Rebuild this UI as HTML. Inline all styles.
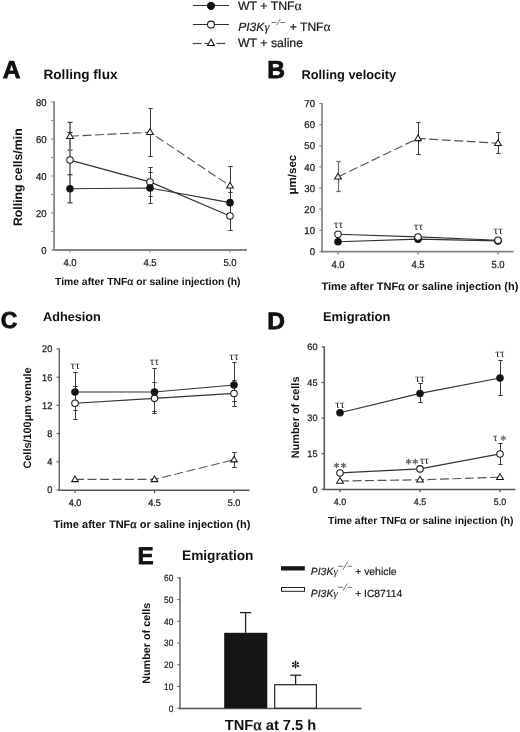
<!DOCTYPE html>
<html><head><meta charset="utf-8"><style>
html,body{margin:0;padding:0;background:#fff;width:520px;height:732px;overflow:hidden;}
svg{display:block;filter:grayscale(1);text-rendering:geometricPrecision;}
</style></head><body>
<svg width="520" height="732" viewBox="0 0 520 732">
<rect width="520" height="732" fill="#fff"/>
<line x1="193.00" y1="5.50" x2="229.00" y2="5.50" stroke="#333" stroke-width="1.15"/>
<circle cx="211.00" cy="5.80" r="3.6" fill="#111" stroke="#1a1a1a" stroke-width="1.05"/>
<line x1="193.00" y1="24.50" x2="229.00" y2="24.50" stroke="#333" stroke-width="1.15"/>
<circle cx="211.00" cy="24.60" r="3.5" fill="#fff" stroke="#1a1a1a" stroke-width="1.05"/>
<line x1="192.70" y1="43.50" x2="201.60" y2="43.50" stroke="#444" stroke-width="1.15"/>
<line x1="204.50" y1="43.50" x2="209.00" y2="43.50" stroke="#444" stroke-width="1.15"/>
<line x1="216.50" y1="43.50" x2="225.30" y2="43.50" stroke="#444" stroke-width="1.15"/>
<polygon points="211.00,39.20 207.60,45.40 214.40,45.40" fill="#fff" stroke="#1a1a1a" stroke-width="1.05" stroke-linejoin="miter"/>
<text x="238" y="10.3" font-family="Liberation Sans" font-size="12.3" font-weight="normal" font-style="normal" text-anchor="start" fill="#1a1a1a" stroke="#1a1a1a" stroke-width="0.22">WT + TNF<tspan font-family="Liberation Serif" font-weight="normal" font-size="13.78" stroke="#111" stroke-width="0.12">α</tspan></text>
<text x="238.2" y="31.3" font-family="Liberation Sans" font-size="12" font-weight="normal" font-style="italic" text-anchor="start" fill="#1a1a1a" stroke="#1a1a1a" stroke-width="0.22">PI3K</text>
<text x="264.6" y="31.3" font-family="Liberation Serif" font-size="12.5" font-weight="normal" font-style="italic" text-anchor="start" fill="#1a1a1a" stroke="#1a1a1a" stroke-width="0.15">γ</text>
<line x1="271.50" y1="22.50" x2="276.37" y2="22.50" stroke="#666" stroke-width="0.9"/>
<line x1="280.53" y1="22.50" x2="285.40" y2="22.50" stroke="#666" stroke-width="0.9"/>
<line x1="276.62" y1="25.25" x2="280.28" y2="19.14" stroke="#666" stroke-width="0.9"/>
<text x="289.8" y="31.3" font-family="Liberation Sans" font-size="12.1" font-weight="normal" font-style="normal" text-anchor="start" fill="#1a1a1a" stroke="#1a1a1a" stroke-width="0.22">+ TNF<tspan font-family="Liberation Serif" font-weight="normal" font-size="13.55" stroke="#111" stroke-width="0.12">α</tspan></text>
<text x="238" y="47.0" font-family="Liberation Sans" font-size="12.3" font-weight="normal" font-style="normal" text-anchor="start" fill="#1a1a1a" stroke="#1a1a1a" stroke-width="0.22">WT + saline</text>
<text x="2.8" y="78.1" font-family="Liberation Sans" font-size="24.6" font-weight="bold" font-style="normal" text-anchor="start" fill="#111" stroke="#111" stroke-width="0.8">A</text>
<text x="43.5" y="78.8" font-family="Liberation Sans" font-size="13.6" font-weight="bold" font-style="normal" text-anchor="start" fill="#111">Rolling flux</text>
<text x="267.2" y="78.2" font-family="Liberation Sans" font-size="24.6" font-weight="bold" font-style="normal" text-anchor="start" fill="#111" stroke="#111" stroke-width="0.8">B</text>
<text x="301.5" y="78.8" font-family="Liberation Sans" font-size="12.8" font-weight="bold" font-style="normal" text-anchor="start" fill="#111">Rolling velocity</text>
<text x="0.8" y="328.1" font-family="Liberation Sans" font-size="23.0" font-weight="bold" font-style="normal" text-anchor="start" fill="#111" stroke="#111" stroke-width="0.8">C</text>
<text x="43" y="321.3" font-family="Liberation Sans" font-size="12.7" font-weight="bold" font-style="normal" text-anchor="start" fill="#111">Adhesion</text>
<text transform="translate(267.3,328.5) scale(1.04,1)" font-family="Liberation Sans" font-size="23.6" font-weight="bold" font-style="normal" text-anchor="start" fill="#111" stroke="#111" stroke-width="0.8">D</text>
<text x="323" y="321.3" font-family="Liberation Sans" font-size="12.9" font-weight="bold" font-style="normal" text-anchor="start" fill="#111">Emigration</text>
<text x="137.6" y="564.0" font-family="Liberation Sans" font-size="24.2" font-weight="bold" font-style="normal" text-anchor="start" fill="#111" stroke="#111" stroke-width="0.8">E</text>
<text x="182" y="560" font-family="Liberation Sans" font-size="13.7" font-weight="bold" font-style="normal" text-anchor="start" fill="#111">Emigration</text>
<line x1="54.10" y1="101.40" x2="54.10" y2="250.90" stroke="#8a8a8a" stroke-width="1.9"/>
<line x1="53.15" y1="249.95" x2="247.00" y2="249.95" stroke="#858585" stroke-width="1.9"/>
<line x1="51.30" y1="250.00" x2="54.10" y2="250.00" stroke="#8a8a8a" stroke-width="1.2"/>
<text transform="translate(46.5,253.58) scale(0.95,1)" font-family="Liberation Sans" font-size="10.0" font-weight="normal" font-style="normal" text-anchor="end" fill="#1a1a1a" stroke="#1a1a1a" stroke-width="0.25">0</text>
<line x1="51.30" y1="213.00" x2="54.10" y2="213.00" stroke="#8a8a8a" stroke-width="1.2"/>
<text transform="translate(46.5,216.58) scale(0.95,1)" font-family="Liberation Sans" font-size="10.0" font-weight="normal" font-style="normal" text-anchor="end" fill="#1a1a1a" stroke="#1a1a1a" stroke-width="0.25">20</text>
<line x1="51.30" y1="176.00" x2="54.10" y2="176.00" stroke="#8a8a8a" stroke-width="1.2"/>
<text transform="translate(46.5,179.58) scale(0.95,1)" font-family="Liberation Sans" font-size="10.0" font-weight="normal" font-style="normal" text-anchor="end" fill="#1a1a1a" stroke="#1a1a1a" stroke-width="0.25">40</text>
<line x1="51.30" y1="139.00" x2="54.10" y2="139.00" stroke="#8a8a8a" stroke-width="1.2"/>
<text transform="translate(46.5,142.58) scale(0.95,1)" font-family="Liberation Sans" font-size="10.0" font-weight="normal" font-style="normal" text-anchor="end" fill="#1a1a1a" stroke="#1a1a1a" stroke-width="0.25">60</text>
<line x1="51.30" y1="102.00" x2="54.10" y2="102.00" stroke="#8a8a8a" stroke-width="1.2"/>
<text transform="translate(46.5,105.58) scale(0.95,1)" font-family="Liberation Sans" font-size="10.0" font-weight="normal" font-style="normal" text-anchor="end" fill="#1a1a1a" stroke="#1a1a1a" stroke-width="0.25">80</text>
<line x1="51.30" y1="231.50" x2="54.10" y2="231.50" stroke="#8a8a8a" stroke-width="1.2"/>
<line x1="51.30" y1="194.50" x2="54.10" y2="194.50" stroke="#8a8a8a" stroke-width="1.2"/>
<line x1="51.30" y1="157.50" x2="54.10" y2="157.50" stroke="#8a8a8a" stroke-width="1.2"/>
<line x1="51.30" y1="120.50" x2="54.10" y2="120.50" stroke="#8a8a8a" stroke-width="1.2"/>
<line x1="70.00" y1="249.95" x2="70.00" y2="252.75" stroke="#858585" stroke-width="1.2"/>
<text transform="translate(70,265.8) scale(0.95,1)" font-family="Liberation Sans" font-size="10.0" font-weight="normal" font-style="normal" text-anchor="middle" fill="#1a1a1a" stroke="#1a1a1a" stroke-width="0.25">4.0</text>
<line x1="150.00" y1="249.95" x2="150.00" y2="252.75" stroke="#858585" stroke-width="1.2"/>
<text transform="translate(150,265.8) scale(0.95,1)" font-family="Liberation Sans" font-size="10.0" font-weight="normal" font-style="normal" text-anchor="middle" fill="#1a1a1a" stroke="#1a1a1a" stroke-width="0.25">4.5</text>
<line x1="230.00" y1="249.95" x2="230.00" y2="252.75" stroke="#858585" stroke-width="1.2"/>
<text transform="translate(230,265.8) scale(0.95,1)" font-family="Liberation Sans" font-size="10.0" font-weight="normal" font-style="normal" text-anchor="middle" fill="#1a1a1a" stroke="#1a1a1a" stroke-width="0.25">5.0</text>
<line x1="70.00" y1="150.10" x2="70.00" y2="122.35" stroke="#808080" stroke-width="1.9"/>
<line x1="67.50" y1="150.10" x2="72.50" y2="150.10" stroke="#3a3a3a" stroke-width="1.2"/>
<line x1="67.50" y1="122.35" x2="72.50" y2="122.35" stroke="#3a3a3a" stroke-width="1.2"/>
<line x1="150.50" y1="156.50" x2="150.50" y2="108.50" stroke="#3a3a3a" stroke-width="1.0"/>
<line x1="148.30" y1="156.50" x2="152.70" y2="156.50" stroke="#3a3a3a" stroke-width="1.0"/>
<line x1="148.30" y1="108.50" x2="152.70" y2="108.50" stroke="#3a3a3a" stroke-width="1.0"/>
<line x1="230.50" y1="205.50" x2="230.50" y2="166.50" stroke="#3a3a3a" stroke-width="1.0"/>
<line x1="228.30" y1="205.50" x2="232.70" y2="205.50" stroke="#3a3a3a" stroke-width="1.0"/>
<line x1="228.30" y1="166.50" x2="232.70" y2="166.50" stroke="#3a3a3a" stroke-width="1.0"/>
<line x1="70.00" y1="187.66" x2="70.00" y2="132.52" stroke="#808080" stroke-width="1.9"/>
<line x1="67.50" y1="187.66" x2="72.50" y2="187.66" stroke="#3a3a3a" stroke-width="1.2"/>
<line x1="67.50" y1="132.52" x2="72.50" y2="132.52" stroke="#3a3a3a" stroke-width="1.2"/>
<line x1="150.50" y1="196.50" x2="150.50" y2="167.50" stroke="#3a3a3a" stroke-width="1.0"/>
<line x1="148.30" y1="196.50" x2="152.70" y2="196.50" stroke="#3a3a3a" stroke-width="1.0"/>
<line x1="148.30" y1="167.50" x2="152.70" y2="167.50" stroke="#3a3a3a" stroke-width="1.0"/>
<line x1="230.50" y1="230.50" x2="230.50" y2="201.50" stroke="#3a3a3a" stroke-width="1.0"/>
<line x1="228.30" y1="230.50" x2="232.70" y2="230.50" stroke="#3a3a3a" stroke-width="1.0"/>
<line x1="228.30" y1="201.50" x2="232.70" y2="201.50" stroke="#3a3a3a" stroke-width="1.0"/>
<line x1="70.00" y1="202.82" x2="70.00" y2="174.70" stroke="#808080" stroke-width="1.9"/>
<line x1="67.50" y1="202.82" x2="72.50" y2="202.82" stroke="#3a3a3a" stroke-width="1.2"/>
<line x1="67.50" y1="174.70" x2="72.50" y2="174.70" stroke="#3a3a3a" stroke-width="1.2"/>
<line x1="150.50" y1="203.50" x2="150.50" y2="172.50" stroke="#3a3a3a" stroke-width="1.0"/>
<line x1="148.30" y1="203.50" x2="152.70" y2="203.50" stroke="#3a3a3a" stroke-width="1.0"/>
<line x1="148.30" y1="172.50" x2="152.70" y2="172.50" stroke="#3a3a3a" stroke-width="1.0"/>
<line x1="230.50" y1="213.50" x2="230.50" y2="192.50" stroke="#3a3a3a" stroke-width="1.0"/>
<line x1="228.30" y1="213.50" x2="232.70" y2="213.50" stroke="#3a3a3a" stroke-width="1.0"/>
<line x1="228.30" y1="192.50" x2="232.70" y2="192.50" stroke="#3a3a3a" stroke-width="1.0"/>
<path d="M70.0,136.2 L150.0,132.3 L230.0,185.8" fill="none" stroke="#555" stroke-width="1.15" stroke-dasharray="9,3.5"/>
<path d="M70.0,160.1 L150.0,181.9 L230.0,216.0" fill="none" stroke="#333" stroke-width="1.15"/>
<path d="M70.0,188.8 L150.0,188.0 L230.0,202.6" fill="none" stroke="#333" stroke-width="1.15"/>
<polygon points="70.00,132.72 66.60,138.42 73.40,138.42" fill="#fff" stroke="#1a1a1a" stroke-width="1.05" stroke-linejoin="miter"/>
<polygon points="150.00,128.84 146.60,134.54 153.40,134.54" fill="#fff" stroke="#1a1a1a" stroke-width="1.05" stroke-linejoin="miter"/>
<polygon points="230.00,182.31 226.60,188.00 233.40,188.00" fill="#fff" stroke="#1a1a1a" stroke-width="1.05" stroke-linejoin="miter"/>
<circle cx="70.00" cy="160.09" r="3.25" fill="#fff" stroke="#1a1a1a" stroke-width="1.05"/>
<circle cx="150.00" cy="181.92" r="3.25" fill="#fff" stroke="#1a1a1a" stroke-width="1.05"/>
<circle cx="230.00" cy="215.96" r="3.25" fill="#fff" stroke="#1a1a1a" stroke-width="1.05"/>
<circle cx="70.00" cy="188.76" r="3.25" fill="#111" stroke="#1a1a1a" stroke-width="1.05"/>
<circle cx="150.00" cy="188.03" r="3.25" fill="#111" stroke="#1a1a1a" stroke-width="1.05"/>
<circle cx="230.00" cy="202.64" r="3.25" fill="#111" stroke="#1a1a1a" stroke-width="1.05"/>
<text transform="translate(22.2,177.2) rotate(-90) scale(1.0,1)" font-family="Liberation Sans" font-size="12.3" font-weight="bold" text-anchor="middle" fill="#111">Rolling cells/min</text>
<text x="55" y="285.1" font-family="Liberation Sans" font-size="10.37" font-weight="bold" font-style="normal" text-anchor="start" fill="#111">Time after TNF<tspan font-family="Liberation Serif" font-weight="normal" font-size="11.54" stroke="#111" stroke-width="0.31">α</tspan> or saline injection (h)</text>
<line x1="322.00" y1="102.92" x2="322.00" y2="252.55" stroke="#8e8e8e" stroke-width="1.9"/>
<line x1="321.05" y1="251.60" x2="513.50" y2="251.60" stroke="#828282" stroke-width="1.9"/>
<line x1="319.20" y1="251.50" x2="322.00" y2="251.50" stroke="#8e8e8e" stroke-width="1.2"/>
<text transform="translate(315,255.08) scale(0.96,1)" font-family="Liberation Sans" font-size="10.0" font-weight="normal" font-style="normal" text-anchor="end" fill="#1a1a1a" stroke="#1a1a1a" stroke-width="0.25">0</text>
<line x1="319.20" y1="230.36" x2="322.00" y2="230.36" stroke="#8e8e8e" stroke-width="1.2"/>
<text transform="translate(315,233.94) scale(0.96,1)" font-family="Liberation Sans" font-size="10.0" font-weight="normal" font-style="normal" text-anchor="end" fill="#1a1a1a" stroke="#1a1a1a" stroke-width="0.25">10</text>
<line x1="319.20" y1="209.22" x2="322.00" y2="209.22" stroke="#8e8e8e" stroke-width="1.2"/>
<text transform="translate(315,212.8) scale(0.96,1)" font-family="Liberation Sans" font-size="10.0" font-weight="normal" font-style="normal" text-anchor="end" fill="#1a1a1a" stroke="#1a1a1a" stroke-width="0.25">20</text>
<line x1="319.20" y1="188.08" x2="322.00" y2="188.08" stroke="#8e8e8e" stroke-width="1.2"/>
<text transform="translate(315,191.66) scale(0.96,1)" font-family="Liberation Sans" font-size="10.0" font-weight="normal" font-style="normal" text-anchor="end" fill="#1a1a1a" stroke="#1a1a1a" stroke-width="0.25">30</text>
<line x1="319.20" y1="166.94" x2="322.00" y2="166.94" stroke="#8e8e8e" stroke-width="1.2"/>
<text transform="translate(315,170.52) scale(0.96,1)" font-family="Liberation Sans" font-size="10.0" font-weight="normal" font-style="normal" text-anchor="end" fill="#1a1a1a" stroke="#1a1a1a" stroke-width="0.25">40</text>
<line x1="319.20" y1="145.80" x2="322.00" y2="145.80" stroke="#8e8e8e" stroke-width="1.2"/>
<text transform="translate(315,149.38) scale(0.96,1)" font-family="Liberation Sans" font-size="10.0" font-weight="normal" font-style="normal" text-anchor="end" fill="#1a1a1a" stroke="#1a1a1a" stroke-width="0.25">50</text>
<line x1="319.20" y1="124.66" x2="322.00" y2="124.66" stroke="#8e8e8e" stroke-width="1.2"/>
<text transform="translate(315,128.24) scale(0.96,1)" font-family="Liberation Sans" font-size="10.0" font-weight="normal" font-style="normal" text-anchor="end" fill="#1a1a1a" stroke="#1a1a1a" stroke-width="0.25">60</text>
<line x1="319.20" y1="103.52" x2="322.00" y2="103.52" stroke="#8e8e8e" stroke-width="1.2"/>
<text transform="translate(315,107.1) scale(0.96,1)" font-family="Liberation Sans" font-size="10.0" font-weight="normal" font-style="normal" text-anchor="end" fill="#1a1a1a" stroke="#1a1a1a" stroke-width="0.25">70</text>
<line x1="338.00" y1="251.60" x2="338.00" y2="254.40" stroke="#828282" stroke-width="1.2"/>
<text transform="translate(338,268) scale(0.93,1)" font-family="Liberation Sans" font-size="10.2" font-weight="normal" font-style="normal" text-anchor="middle" fill="#1a1a1a" stroke="#1a1a1a" stroke-width="0.25">4.0</text>
<line x1="418.00" y1="251.60" x2="418.00" y2="254.40" stroke="#828282" stroke-width="1.2"/>
<text transform="translate(418,268) scale(0.93,1)" font-family="Liberation Sans" font-size="10.2" font-weight="normal" font-style="normal" text-anchor="middle" fill="#1a1a1a" stroke="#1a1a1a" stroke-width="0.25">4.5</text>
<line x1="498.00" y1="251.60" x2="498.00" y2="254.40" stroke="#828282" stroke-width="1.2"/>
<text transform="translate(498,268) scale(0.93,1)" font-family="Liberation Sans" font-size="10.2" font-weight="normal" font-style="normal" text-anchor="middle" fill="#1a1a1a" stroke="#1a1a1a" stroke-width="0.25">5.0</text>
<line x1="338.50" y1="191.50" x2="338.50" y2="161.50" stroke="#6a6a6a" stroke-width="1.2"/>
<line x1="336.30" y1="191.50" x2="340.70" y2="191.50" stroke="#6a6a6a" stroke-width="1.2"/>
<line x1="336.30" y1="161.50" x2="340.70" y2="161.50" stroke="#6a6a6a" stroke-width="1.2"/>
<line x1="418.50" y1="154.50" x2="418.50" y2="122.50" stroke="#3a3a3a" stroke-width="1.0"/>
<line x1="416.30" y1="154.50" x2="420.70" y2="154.50" stroke="#3a3a3a" stroke-width="1.0"/>
<line x1="416.30" y1="122.50" x2="420.70" y2="122.50" stroke="#3a3a3a" stroke-width="1.0"/>
<line x1="498.50" y1="153.50" x2="498.50" y2="132.50" stroke="#3a3a3a" stroke-width="1.0"/>
<line x1="496.30" y1="153.50" x2="500.70" y2="153.50" stroke="#3a3a3a" stroke-width="1.0"/>
<line x1="496.30" y1="132.50" x2="500.70" y2="132.50" stroke="#3a3a3a" stroke-width="1.0"/>
<line x1="338.50" y1="243.50" x2="338.50" y2="240.50" stroke="#6a6a6a" stroke-width="1.2"/>
<line x1="336.30" y1="243.50" x2="340.70" y2="243.50" stroke="#6a6a6a" stroke-width="1.2"/>
<line x1="336.30" y1="240.50" x2="340.70" y2="240.50" stroke="#6a6a6a" stroke-width="1.2"/>
<line x1="418.50" y1="240.50" x2="418.50" y2="237.50" stroke="#3a3a3a" stroke-width="1.0"/>
<line x1="416.30" y1="240.50" x2="420.70" y2="240.50" stroke="#3a3a3a" stroke-width="1.0"/>
<line x1="416.30" y1="237.50" x2="420.70" y2="237.50" stroke="#3a3a3a" stroke-width="1.0"/>
<line x1="498.50" y1="242.50" x2="498.50" y2="239.50" stroke="#3a3a3a" stroke-width="1.0"/>
<line x1="496.30" y1="242.50" x2="500.70" y2="242.50" stroke="#3a3a3a" stroke-width="1.0"/>
<line x1="496.30" y1="239.50" x2="500.70" y2="239.50" stroke="#3a3a3a" stroke-width="1.0"/>
<line x1="338.50" y1="235.50" x2="338.50" y2="232.50" stroke="#6a6a6a" stroke-width="1.2"/>
<line x1="336.30" y1="235.50" x2="340.70" y2="235.50" stroke="#6a6a6a" stroke-width="1.2"/>
<line x1="336.30" y1="232.50" x2="340.70" y2="232.50" stroke="#6a6a6a" stroke-width="1.2"/>
<line x1="418.50" y1="238.50" x2="418.50" y2="235.50" stroke="#3a3a3a" stroke-width="1.0"/>
<line x1="416.30" y1="238.50" x2="420.70" y2="238.50" stroke="#3a3a3a" stroke-width="1.0"/>
<line x1="416.30" y1="235.50" x2="420.70" y2="235.50" stroke="#3a3a3a" stroke-width="1.0"/>
<line x1="498.50" y1="241.50" x2="498.50" y2="238.50" stroke="#3a3a3a" stroke-width="1.0"/>
<line x1="496.30" y1="241.50" x2="500.70" y2="241.50" stroke="#3a3a3a" stroke-width="1.0"/>
<line x1="496.30" y1="238.50" x2="500.70" y2="238.50" stroke="#3a3a3a" stroke-width="1.0"/>
<path d="M338.0,176.9 L418.0,138.4 L498.0,143.3" fill="none" stroke="#555" stroke-width="1.15" stroke-dasharray="9,3.5"/>
<path d="M338.0,241.8 L418.0,239.2 L498.0,240.9" fill="none" stroke="#333" stroke-width="1.15"/>
<path d="M338.0,234.2 L418.0,236.9 L498.0,240.3" fill="none" stroke="#333" stroke-width="1.15"/>
<polygon points="338.00,173.38 334.60,179.08 341.40,179.08" fill="#fff" stroke="#1a1a1a" stroke-width="1.05" stroke-linejoin="miter"/>
<polygon points="418.00,134.90 414.60,140.60 421.40,140.60" fill="#fff" stroke="#1a1a1a" stroke-width="1.05" stroke-linejoin="miter"/>
<polygon points="498.00,139.76 494.60,145.46 501.40,145.46" fill="#fff" stroke="#1a1a1a" stroke-width="1.05" stroke-linejoin="miter"/>
<circle cx="338.00" cy="241.78" r="3.25" fill="#111" stroke="#1a1a1a" stroke-width="1.05"/>
<circle cx="418.00" cy="239.24" r="3.25" fill="#111" stroke="#1a1a1a" stroke-width="1.05"/>
<circle cx="498.00" cy="240.93" r="3.25" fill="#111" stroke="#1a1a1a" stroke-width="1.05"/>
<circle cx="338.00" cy="234.17" r="3.25" fill="#fff" stroke="#1a1a1a" stroke-width="1.05"/>
<circle cx="418.00" cy="236.91" r="3.25" fill="#fff" stroke="#1a1a1a" stroke-width="1.05"/>
<circle cx="498.00" cy="240.30" r="3.25" fill="#fff" stroke="#1a1a1a" stroke-width="1.05"/>
<text x="338.4" y="228.4" font-family="Liberation Serif" font-size="11.6" font-weight="normal" font-style="normal" text-anchor="middle" fill="#222">ττ</text>
<text x="418.4" y="229.6" font-family="Liberation Serif" font-size="11.6" font-weight="normal" font-style="normal" text-anchor="middle" fill="#222">ττ</text>
<text x="498.2" y="234.0" font-family="Liberation Serif" font-size="11.6" font-weight="normal" font-style="normal" text-anchor="middle" fill="#222">ττ</text>
<text transform="translate(296,174.6) rotate(-90) scale(1.0,1)" font-family="Liberation Sans" font-size="11.5" font-weight="bold" text-anchor="middle" fill="#111">μm/sec</text>
<text x="321.4" y="290.0" font-family="Liberation Sans" font-size="11.0" font-weight="bold" font-style="normal" text-anchor="start" fill="#111">Time after TNF<tspan font-family="Liberation Serif" font-weight="normal" font-size="12.21" stroke="#111" stroke-width="0.33">α</tspan> or saline injection (h)</text>
<line x1="59.30" y1="348.40" x2="59.30" y2="491.05" stroke="#666" stroke-width="1.5"/>
<line x1="58.55" y1="490.30" x2="249.50" y2="490.30" stroke="#555" stroke-width="1.5"/>
<line x1="56.50" y1="490.00" x2="59.30" y2="490.00" stroke="#666" stroke-width="1.2"/>
<text transform="translate(52.3,493.47) scale(0.95,1)" font-family="Liberation Sans" font-size="9.7" font-weight="normal" font-style="normal" text-anchor="end" fill="#1a1a1a" stroke="#1a1a1a" stroke-width="0.25">0</text>
<line x1="56.50" y1="461.80" x2="59.30" y2="461.80" stroke="#666" stroke-width="1.2"/>
<text transform="translate(52.3,465.27) scale(0.95,1)" font-family="Liberation Sans" font-size="9.7" font-weight="normal" font-style="normal" text-anchor="end" fill="#1a1a1a" stroke="#1a1a1a" stroke-width="0.25">4</text>
<line x1="56.50" y1="433.60" x2="59.30" y2="433.60" stroke="#666" stroke-width="1.2"/>
<text transform="translate(52.3,437.07) scale(0.95,1)" font-family="Liberation Sans" font-size="9.7" font-weight="normal" font-style="normal" text-anchor="end" fill="#1a1a1a" stroke="#1a1a1a" stroke-width="0.25">8</text>
<line x1="56.50" y1="405.40" x2="59.30" y2="405.40" stroke="#666" stroke-width="1.2"/>
<text transform="translate(52.3,408.87) scale(0.95,1)" font-family="Liberation Sans" font-size="9.7" font-weight="normal" font-style="normal" text-anchor="end" fill="#1a1a1a" stroke="#1a1a1a" stroke-width="0.25">12</text>
<line x1="56.50" y1="377.20" x2="59.30" y2="377.20" stroke="#666" stroke-width="1.2"/>
<text transform="translate(52.3,380.67) scale(0.95,1)" font-family="Liberation Sans" font-size="9.7" font-weight="normal" font-style="normal" text-anchor="end" fill="#1a1a1a" stroke="#1a1a1a" stroke-width="0.25">16</text>
<line x1="56.50" y1="349.00" x2="59.30" y2="349.00" stroke="#666" stroke-width="1.2"/>
<text transform="translate(52.3,352.47) scale(0.95,1)" font-family="Liberation Sans" font-size="9.7" font-weight="normal" font-style="normal" text-anchor="end" fill="#1a1a1a" stroke="#1a1a1a" stroke-width="0.25">20</text>
<line x1="75.00" y1="490.30" x2="75.00" y2="493.10" stroke="#555" stroke-width="1.2"/>
<text transform="translate(75,506.2) scale(0.95,1)" font-family="Liberation Sans" font-size="9.6" font-weight="normal" font-style="normal" text-anchor="middle" fill="#1a1a1a" stroke="#1a1a1a" stroke-width="0.25">4.0</text>
<line x1="154.50" y1="490.30" x2="154.50" y2="493.10" stroke="#555" stroke-width="1.2"/>
<text transform="translate(154.5,506.2) scale(0.95,1)" font-family="Liberation Sans" font-size="9.6" font-weight="normal" font-style="normal" text-anchor="middle" fill="#1a1a1a" stroke="#1a1a1a" stroke-width="0.25">4.5</text>
<line x1="234.00" y1="490.30" x2="234.00" y2="493.10" stroke="#555" stroke-width="1.2"/>
<text transform="translate(234,506.2) scale(0.95,1)" font-family="Liberation Sans" font-size="9.6" font-weight="normal" font-style="normal" text-anchor="middle" fill="#1a1a1a" stroke="#1a1a1a" stroke-width="0.25">5.0</text>
<line x1="234.50" y1="467.50" x2="234.50" y2="452.50" stroke="#3a3a3a" stroke-width="1.0"/>
<line x1="232.30" y1="467.50" x2="236.70" y2="467.50" stroke="#3a3a3a" stroke-width="1.0"/>
<line x1="232.30" y1="452.50" x2="236.70" y2="452.50" stroke="#3a3a3a" stroke-width="1.0"/>
<line x1="75.50" y1="419.50" x2="75.50" y2="386.50" stroke="#3a3a3a" stroke-width="1.0"/>
<line x1="73.30" y1="419.50" x2="77.70" y2="419.50" stroke="#3a3a3a" stroke-width="1.0"/>
<line x1="73.30" y1="386.50" x2="77.70" y2="386.50" stroke="#3a3a3a" stroke-width="1.0"/>
<line x1="154.50" y1="413.50" x2="154.50" y2="382.50" stroke="#3a3a3a" stroke-width="1.0"/>
<line x1="152.30" y1="413.50" x2="156.70" y2="413.50" stroke="#3a3a3a" stroke-width="1.0"/>
<line x1="152.30" y1="382.50" x2="156.70" y2="382.50" stroke="#3a3a3a" stroke-width="1.0"/>
<line x1="234.50" y1="406.50" x2="234.50" y2="380.50" stroke="#3a3a3a" stroke-width="1.0"/>
<line x1="232.30" y1="406.50" x2="236.70" y2="406.50" stroke="#3a3a3a" stroke-width="1.0"/>
<line x1="232.30" y1="380.50" x2="236.70" y2="380.50" stroke="#3a3a3a" stroke-width="1.0"/>
<line x1="75.50" y1="410.50" x2="75.50" y2="372.50" stroke="#3a3a3a" stroke-width="1.0"/>
<line x1="73.30" y1="410.50" x2="77.70" y2="410.50" stroke="#3a3a3a" stroke-width="1.0"/>
<line x1="73.30" y1="372.50" x2="77.70" y2="372.50" stroke="#3a3a3a" stroke-width="1.0"/>
<line x1="154.50" y1="411.50" x2="154.50" y2="368.50" stroke="#3a3a3a" stroke-width="1.0"/>
<line x1="152.30" y1="411.50" x2="156.70" y2="411.50" stroke="#3a3a3a" stroke-width="1.0"/>
<line x1="152.30" y1="368.50" x2="156.70" y2="368.50" stroke="#3a3a3a" stroke-width="1.0"/>
<line x1="234.50" y1="401.50" x2="234.50" y2="362.50" stroke="#3a3a3a" stroke-width="1.0"/>
<line x1="232.30" y1="401.50" x2="236.70" y2="401.50" stroke="#3a3a3a" stroke-width="1.0"/>
<line x1="232.30" y1="362.50" x2="236.70" y2="362.50" stroke="#3a3a3a" stroke-width="1.0"/>
<path d="M75.0,479.4 L154.5,479.4 L234.0,459.7" fill="none" stroke="#555" stroke-width="1.15" stroke-dasharray="9,3.5"/>
<path d="M75.0,403.3 L154.5,398.4 L234.0,393.4" fill="none" stroke="#333" stroke-width="1.15"/>
<path d="M75.0,392.0 L154.5,392.0 L234.0,385.0" fill="none" stroke="#333" stroke-width="1.15"/>
<polygon points="75.00,475.93 71.60,481.62 78.40,481.62" fill="#fff" stroke="#1a1a1a" stroke-width="1.05" stroke-linejoin="miter"/>
<polygon points="154.50,475.93 151.10,481.62 157.90,481.62" fill="#fff" stroke="#1a1a1a" stroke-width="1.05" stroke-linejoin="miter"/>
<polygon points="234.00,456.19 230.60,461.88 237.40,461.88" fill="#fff" stroke="#1a1a1a" stroke-width="1.05" stroke-linejoin="miter"/>
<circle cx="75.00" cy="403.28" r="3.25" fill="#fff" stroke="#1a1a1a" stroke-width="1.05"/>
<circle cx="154.50" cy="398.35" r="3.25" fill="#fff" stroke="#1a1a1a" stroke-width="1.05"/>
<circle cx="234.00" cy="393.42" r="3.25" fill="#fff" stroke="#1a1a1a" stroke-width="1.05"/>
<circle cx="75.00" cy="392.00" r="3.25" fill="#111" stroke="#1a1a1a" stroke-width="1.05"/>
<circle cx="154.50" cy="392.00" r="3.25" fill="#111" stroke="#1a1a1a" stroke-width="1.05"/>
<circle cx="234.00" cy="384.95" r="3.25" fill="#111" stroke="#1a1a1a" stroke-width="1.05"/>
<text x="75.2" y="369.0" font-family="Liberation Serif" font-size="11.6" font-weight="normal" font-style="normal" text-anchor="middle" fill="#222">ττ</text>
<text x="154.5" y="365.3" font-family="Liberation Serif" font-size="11.6" font-weight="normal" font-style="normal" text-anchor="middle" fill="#222">ττ</text>
<text x="234" y="360.1" font-family="Liberation Serif" font-size="11.6" font-weight="normal" font-style="normal" text-anchor="middle" fill="#222">ττ</text>
<text transform="translate(31.1,418) rotate(-90) scale(1.0,1)" font-family="Liberation Sans" font-size="10.9" font-weight="bold" text-anchor="middle" fill="#111">Cells/100μm venule</text>
<text x="53.5" y="528.0" font-family="Liberation Sans" font-size="11.0" font-weight="bold" font-style="normal" text-anchor="start" fill="#111">Time after TNF<tspan font-family="Liberation Serif" font-weight="normal" font-size="12.21" stroke="#111" stroke-width="0.33">α</tspan> or saline injection (h)</text>
<line x1="324.30" y1="346.32" x2="324.30" y2="490.15" stroke="#5a5a5a" stroke-width="1.6"/>
<line x1="323.50" y1="489.40" x2="515.50" y2="489.40" stroke="#555" stroke-width="1.5"/>
<line x1="321.50" y1="489.30" x2="324.30" y2="489.30" stroke="#5a5a5a" stroke-width="1.2"/>
<text transform="translate(317.5,492.63) scale(0.98,1)" font-family="Liberation Sans" font-size="9.3" font-weight="normal" font-style="normal" text-anchor="end" fill="#1a1a1a" stroke="#1a1a1a" stroke-width="0.25">0</text>
<line x1="321.50" y1="453.70" x2="324.30" y2="453.70" stroke="#5a5a5a" stroke-width="1.2"/>
<text transform="translate(317.5,457.03) scale(0.98,1)" font-family="Liberation Sans" font-size="9.3" font-weight="normal" font-style="normal" text-anchor="end" fill="#1a1a1a" stroke="#1a1a1a" stroke-width="0.25">15</text>
<line x1="321.50" y1="418.11" x2="324.30" y2="418.11" stroke="#5a5a5a" stroke-width="1.2"/>
<text transform="translate(317.5,421.44) scale(0.98,1)" font-family="Liberation Sans" font-size="9.3" font-weight="normal" font-style="normal" text-anchor="end" fill="#1a1a1a" stroke="#1a1a1a" stroke-width="0.25">30</text>
<line x1="321.50" y1="382.51" x2="324.30" y2="382.51" stroke="#5a5a5a" stroke-width="1.2"/>
<text transform="translate(317.5,385.84) scale(0.98,1)" font-family="Liberation Sans" font-size="9.3" font-weight="normal" font-style="normal" text-anchor="end" fill="#1a1a1a" stroke="#1a1a1a" stroke-width="0.25">45</text>
<line x1="321.50" y1="346.92" x2="324.30" y2="346.92" stroke="#5a5a5a" stroke-width="1.2"/>
<text transform="translate(317.5,350.25) scale(0.98,1)" font-family="Liberation Sans" font-size="9.3" font-weight="normal" font-style="normal" text-anchor="end" fill="#1a1a1a" stroke="#1a1a1a" stroke-width="0.25">60</text>
<line x1="340.00" y1="489.40" x2="340.00" y2="492.20" stroke="#555" stroke-width="1.2"/>
<text transform="translate(340,504.8) scale(0.95,1)" font-family="Liberation Sans" font-size="9.3" font-weight="normal" font-style="normal" text-anchor="middle" fill="#1a1a1a" stroke="#1a1a1a" stroke-width="0.25">4.0</text>
<line x1="420.00" y1="489.40" x2="420.00" y2="492.20" stroke="#555" stroke-width="1.2"/>
<text transform="translate(420,504.8) scale(0.95,1)" font-family="Liberation Sans" font-size="9.3" font-weight="normal" font-style="normal" text-anchor="middle" fill="#1a1a1a" stroke="#1a1a1a" stroke-width="0.25">4.5</text>
<line x1="500.00" y1="489.40" x2="500.00" y2="492.20" stroke="#555" stroke-width="1.2"/>
<text transform="translate(500,504.8) scale(0.95,1)" font-family="Liberation Sans" font-size="9.3" font-weight="normal" font-style="normal" text-anchor="middle" fill="#1a1a1a" stroke="#1a1a1a" stroke-width="0.25">5.0</text>
<line x1="340.50" y1="472.50" x2="340.50" y2="470.50" stroke="#3a3a3a" stroke-width="1.0"/>
<line x1="338.30" y1="472.50" x2="342.70" y2="472.50" stroke="#3a3a3a" stroke-width="1.0"/>
<line x1="338.30" y1="470.50" x2="342.70" y2="470.50" stroke="#3a3a3a" stroke-width="1.0"/>
<line x1="500.50" y1="464.50" x2="500.50" y2="443.50" stroke="#3a3a3a" stroke-width="1.0"/>
<line x1="498.30" y1="464.50" x2="502.70" y2="464.50" stroke="#3a3a3a" stroke-width="1.0"/>
<line x1="498.30" y1="443.50" x2="502.70" y2="443.50" stroke="#3a3a3a" stroke-width="1.0"/>
<line x1="420.50" y1="402.50" x2="420.50" y2="383.50" stroke="#3a3a3a" stroke-width="1.0"/>
<line x1="418.30" y1="402.50" x2="422.70" y2="402.50" stroke="#3a3a3a" stroke-width="1.0"/>
<line x1="418.30" y1="383.50" x2="422.70" y2="383.50" stroke="#3a3a3a" stroke-width="1.0"/>
<line x1="500.50" y1="395.50" x2="500.50" y2="360.50" stroke="#3a3a3a" stroke-width="1.0"/>
<line x1="498.30" y1="395.50" x2="502.70" y2="395.50" stroke="#3a3a3a" stroke-width="1.0"/>
<line x1="498.30" y1="360.50" x2="502.70" y2="360.50" stroke="#3a3a3a" stroke-width="1.0"/>
<path d="M340.0,481.0 L420.0,479.8 L500.0,477.2" fill="none" stroke="#555" stroke-width="1.15" stroke-dasharray="9,3.5"/>
<path d="M340.0,472.9 L420.0,468.9 L500.0,453.9" fill="none" stroke="#333" stroke-width="1.15"/>
<path d="M340.0,412.7 L420.0,393.4 L500.0,378.0" fill="none" stroke="#333" stroke-width="1.15"/>
<polygon points="340.00,477.49 336.60,483.19 343.40,483.19" fill="#fff" stroke="#1a1a1a" stroke-width="1.05" stroke-linejoin="miter"/>
<polygon points="420.00,476.31 416.60,482.01 423.40,482.01" fill="#fff" stroke="#1a1a1a" stroke-width="1.05" stroke-linejoin="miter"/>
<polygon points="500.00,473.70 496.60,479.40 503.40,479.40" fill="#fff" stroke="#1a1a1a" stroke-width="1.05" stroke-linejoin="miter"/>
<circle cx="340.00" cy="472.93" r="3.25" fill="#fff" stroke="#1a1a1a" stroke-width="1.05"/>
<circle cx="420.00" cy="468.89" r="3.25" fill="#fff" stroke="#1a1a1a" stroke-width="1.05"/>
<circle cx="500.00" cy="453.94" r="3.25" fill="#fff" stroke="#1a1a1a" stroke-width="1.05"/>
<circle cx="340.00" cy="412.65" r="3.25" fill="#111" stroke="#1a1a1a" stroke-width="1.05"/>
<circle cx="420.00" cy="393.43" r="3.25" fill="#111" stroke="#1a1a1a" stroke-width="1.05"/>
<circle cx="500.00" cy="378.01" r="3.25" fill="#111" stroke="#1a1a1a" stroke-width="1.05"/>
<text x="340" y="407.7" font-family="Liberation Serif" font-size="11.6" font-weight="normal" font-style="normal" text-anchor="middle" fill="#222">ττ</text>
<text x="420" y="381.7" font-family="Liberation Serif" font-size="11.6" font-weight="normal" font-style="normal" text-anchor="middle" fill="#222">ττ</text>
<text x="500" y="357.2" font-family="Liberation Serif" font-size="11.6" font-weight="normal" font-style="normal" text-anchor="middle" fill="#222">ττ</text>
<line x1="336.60" y1="463.00" x2="336.60" y2="467.80" stroke="#666" stroke-width="1.2" stroke-linecap="round"/>
<line x1="334.52" y1="464.20" x2="338.68" y2="466.60" stroke="#666" stroke-width="1.2" stroke-linecap="round"/>
<line x1="338.68" y1="464.20" x2="334.52" y2="466.60" stroke="#666" stroke-width="1.2" stroke-linecap="round"/>
<line x1="343.50" y1="463.00" x2="343.50" y2="467.80" stroke="#666" stroke-width="1.2" stroke-linecap="round"/>
<line x1="341.42" y1="464.20" x2="345.58" y2="466.60" stroke="#666" stroke-width="1.2" stroke-linecap="round"/>
<line x1="345.58" y1="464.20" x2="341.42" y2="466.60" stroke="#666" stroke-width="1.2" stroke-linecap="round"/>
<line x1="408.50" y1="459.20" x2="408.50" y2="464.00" stroke="#666" stroke-width="1.2" stroke-linecap="round"/>
<line x1="406.42" y1="460.40" x2="410.58" y2="462.80" stroke="#666" stroke-width="1.2" stroke-linecap="round"/>
<line x1="410.58" y1="460.40" x2="406.42" y2="462.80" stroke="#666" stroke-width="1.2" stroke-linecap="round"/>
<line x1="415.30" y1="459.20" x2="415.30" y2="464.00" stroke="#666" stroke-width="1.2" stroke-linecap="round"/>
<line x1="413.22" y1="460.40" x2="417.38" y2="462.80" stroke="#666" stroke-width="1.2" stroke-linecap="round"/>
<line x1="417.38" y1="460.40" x2="413.22" y2="462.80" stroke="#666" stroke-width="1.2" stroke-linecap="round"/>
<text x="424.3" y="463.8" font-family="Liberation Serif" font-size="11.6" font-weight="normal" font-style="normal" text-anchor="middle" fill="#222">ττ</text>
<text x="495.4" y="440.7" font-family="Liberation Serif" font-size="11.6" font-weight="normal" font-style="normal" text-anchor="middle" fill="#222">τ</text>
<line x1="503.30" y1="435.70" x2="503.30" y2="440.50" stroke="#777" stroke-width="1.2" stroke-linecap="round"/>
<line x1="501.22" y1="436.90" x2="505.38" y2="439.30" stroke="#777" stroke-width="1.2" stroke-linecap="round"/>
<line x1="505.38" y1="436.90" x2="501.22" y2="439.30" stroke="#777" stroke-width="1.2" stroke-linecap="round"/>
<text transform="translate(299.3,417.4) rotate(-90) scale(1.0,1)" font-family="Liberation Sans" font-size="10.9" font-weight="bold" text-anchor="middle" fill="#111">Number of cells</text>
<text x="328" y="523.9" font-family="Liberation Sans" font-size="10.37" font-weight="bold" font-style="normal" text-anchor="start" fill="#111">Time after TNF<tspan font-family="Liberation Serif" font-weight="normal" font-size="11.54" stroke="#111" stroke-width="0.31">α</tspan> or saline injection (h)</text>
<line x1="180.00" y1="577.28" x2="180.00" y2="709.20" stroke="#8a8a8a" stroke-width="1.9"/>
<line x1="179.00" y1="708.50" x2="361.50" y2="708.50" stroke="#555" stroke-width="1.5"/>
<line x1="177.30" y1="708.20" x2="180.00" y2="708.20" stroke="#666" stroke-width="1.1"/>
<text transform="translate(173.4,711.53) scale(0.9,1)" font-family="Liberation Sans" font-size="9.3" font-weight="normal" font-style="normal" text-anchor="end" fill="#1a1a1a" stroke="#1a1a1a" stroke-width="0.2">0</text>
<line x1="177.30" y1="686.48" x2="180.00" y2="686.48" stroke="#666" stroke-width="1.1"/>
<text transform="translate(173.4,689.81) scale(0.9,1)" font-family="Liberation Sans" font-size="9.3" font-weight="normal" font-style="normal" text-anchor="end" fill="#1a1a1a" stroke="#1a1a1a" stroke-width="0.2">10</text>
<line x1="177.30" y1="664.76" x2="180.00" y2="664.76" stroke="#666" stroke-width="1.1"/>
<text transform="translate(173.4,668.09) scale(0.9,1)" font-family="Liberation Sans" font-size="9.3" font-weight="normal" font-style="normal" text-anchor="end" fill="#1a1a1a" stroke="#1a1a1a" stroke-width="0.2">20</text>
<line x1="177.30" y1="643.04" x2="180.00" y2="643.04" stroke="#666" stroke-width="1.1"/>
<text transform="translate(173.4,646.37) scale(0.9,1)" font-family="Liberation Sans" font-size="9.3" font-weight="normal" font-style="normal" text-anchor="end" fill="#1a1a1a" stroke="#1a1a1a" stroke-width="0.2">30</text>
<line x1="177.30" y1="621.32" x2="180.00" y2="621.32" stroke="#666" stroke-width="1.1"/>
<text transform="translate(173.4,624.65) scale(0.9,1)" font-family="Liberation Sans" font-size="9.3" font-weight="normal" font-style="normal" text-anchor="end" fill="#1a1a1a" stroke="#1a1a1a" stroke-width="0.2">40</text>
<line x1="177.30" y1="599.60" x2="180.00" y2="599.60" stroke="#666" stroke-width="1.1"/>
<text transform="translate(173.4,602.93) scale(0.9,1)" font-family="Liberation Sans" font-size="9.3" font-weight="normal" font-style="normal" text-anchor="end" fill="#1a1a1a" stroke="#1a1a1a" stroke-width="0.2">50</text>
<line x1="177.30" y1="577.88" x2="180.00" y2="577.88" stroke="#666" stroke-width="1.1"/>
<text transform="translate(173.4,581.21) scale(0.9,1)" font-family="Liberation Sans" font-size="9.3" font-weight="normal" font-style="normal" text-anchor="end" fill="#1a1a1a" stroke="#1a1a1a" stroke-width="0.2">60</text>
<line x1="245.60" y1="632.80" x2="245.60" y2="612.60" stroke="#222" stroke-width="1.3"/>
<line x1="240.00" y1="612.60" x2="251.20" y2="612.60" stroke="#222" stroke-width="1.3"/>
<rect x="224.2" y="632.8" width="43.1" height="75.4" fill="#151515"/>
<line x1="295.60" y1="684.20" x2="295.60" y2="675.20" stroke="#222" stroke-width="1.3"/>
<line x1="290.20" y1="675.20" x2="301.20" y2="675.20" stroke="#222" stroke-width="1.3"/>
<rect x="274.7" y="684.7" width="41.7" height="23.5" fill="#fff" stroke="#222" stroke-width="1.2"/>
<line x1="295.50" y1="661.10" x2="295.50" y2="668.10" stroke="#1a1a1a" stroke-width="0.9" stroke-linecap="round"/>
<circle cx="295.50" cy="661.87" r="1.0" fill="#1a1a1a"/>
<circle cx="295.50" cy="667.33" r="1.0" fill="#1a1a1a"/>
<line x1="292.47" y1="662.85" x2="298.53" y2="666.35" stroke="#1a1a1a" stroke-width="0.9" stroke-linecap="round"/>
<circle cx="293.14" cy="663.24" r="1.0" fill="#1a1a1a"/>
<circle cx="297.86" cy="665.97" r="1.0" fill="#1a1a1a"/>
<line x1="298.53" y1="662.85" x2="292.47" y2="666.35" stroke="#1a1a1a" stroke-width="0.9" stroke-linecap="round"/>
<circle cx="297.86" cy="663.24" r="1.0" fill="#1a1a1a"/>
<circle cx="293.14" cy="665.97" r="1.0" fill="#1a1a1a"/>
<rect x="281" y="566.2" width="23.8" height="4.3" fill="#151515"/>
<rect x="281.5" y="587.5" width="23" height="3.8" fill="#fff" stroke="#222" stroke-width="1"/>
<text x="310.8" y="575.4" font-family="Liberation Sans" font-size="10.4" font-weight="normal" font-style="italic" text-anchor="start" fill="#1a1a1a" stroke="#1a1a1a" stroke-width="0.2">PI3K</text>
<text x="333.4" y="575.4" font-family="Liberation Serif" font-size="10.8" font-weight="normal" font-style="italic" text-anchor="start" fill="#1a1a1a">γ</text>
<line x1="338.10" y1="566.30" x2="343.04" y2="566.30" stroke="#666" stroke-width="0.9"/>
<line x1="347.27" y1="566.30" x2="352.20" y2="566.30" stroke="#666" stroke-width="0.9"/>
<line x1="342.81" y1="569.81" x2="347.49" y2="562.01" stroke="#666" stroke-width="0.9"/>
<text x="355.2" y="575.4" font-family="Liberation Sans" font-size="10.4" font-weight="normal" font-style="normal" text-anchor="start" fill="#1a1a1a" stroke="#1a1a1a" stroke-width="0.2">+ vehicle</text>
<text x="310.8" y="596.5" font-family="Liberation Sans" font-size="10.4" font-weight="normal" font-style="italic" text-anchor="start" fill="#1a1a1a" stroke="#1a1a1a" stroke-width="0.2">PI3K</text>
<text x="333.4" y="596.5" font-family="Liberation Serif" font-size="10.8" font-weight="normal" font-style="italic" text-anchor="start" fill="#1a1a1a">γ</text>
<line x1="338.10" y1="587.40" x2="343.04" y2="587.40" stroke="#666" stroke-width="0.9"/>
<line x1="347.27" y1="587.40" x2="352.20" y2="587.40" stroke="#666" stroke-width="0.9"/>
<line x1="343.02" y1="590.60" x2="347.28" y2="583.50" stroke="#666" stroke-width="0.9"/>
<text x="355.2" y="596.5" font-family="Liberation Sans" font-size="10.3" font-weight="normal" font-style="normal" text-anchor="start" fill="#1a1a1a" stroke="#1a1a1a" stroke-width="0.2">+ IC87114</text>
<text transform="translate(150.3,643.3) rotate(-90) scale(1.0,1)" font-family="Liberation Sans" font-size="10.8" font-weight="bold" text-anchor="middle" fill="#111">Number of cells</text>
<text x="224.8" y="729.6" font-family="Liberation Sans" font-size="14.65" font-weight="bold" font-style="normal" text-anchor="start" fill="#111">TNF<tspan font-family="Liberation Serif" font-weight="normal" font-size="16.13" stroke="#111" stroke-width="0.43">α</tspan> at 7.5 h</text>
</svg>
</body></html>
